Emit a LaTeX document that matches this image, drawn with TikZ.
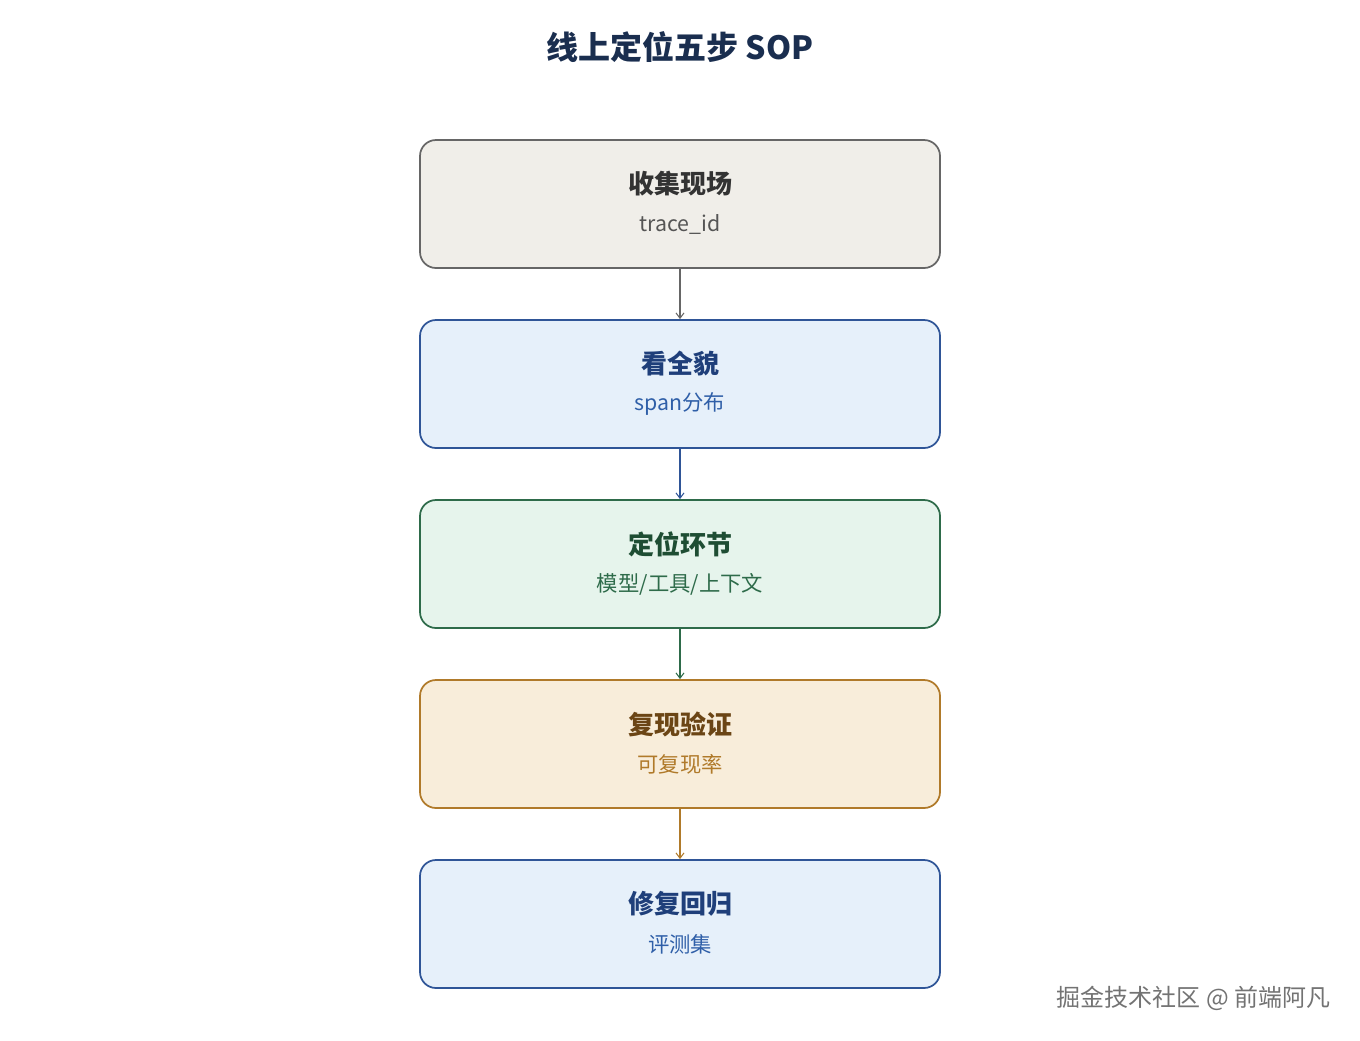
\documentclass[tikz,border=0pt]{standalone}
\usepackage{fontspec}
\usetikzlibrary{arrows.meta}
\setmainfont{Noto Sans CJK SC}
\definecolor{b1f}{HTML}{F0EEE9}\definecolor{b1d}{HTML}{666666}\definecolor{b1t}{HTML}{333333}\definecolor{b1s}{HTML}{555555}
\definecolor{b2f}{HTML}{E6F0FA}\definecolor{b2d}{HTML}{2F5597}\definecolor{b2t}{HTML}{1F3F7A}\definecolor{b2s}{HTML}{2F5FA8}
\definecolor{b3f}{HTML}{E6F4EC}\definecolor{b3d}{HTML}{2E6B4A}\definecolor{b3t}{HTML}{1E4D33}\definecolor{b3s}{HTML}{2E6B4A}
\definecolor{b4f}{HTML}{F8EDDA}\definecolor{b4d}{HTML}{B07A2A}\definecolor{b4t}{HTML}{6B4515}\definecolor{b4s}{HTML}{B07A2A}
\definecolor{ttl}{HTML}{1A2E4F}
\begin{document}
\begin{tikzpicture}[x=0.75pt,y=-0.75pt,
 box/.style={draw=#1d,fill=#1f,line width=1.3pt,rounded corners=12pt,minimum width=390pt,minimum height=96pt},
 tt/.style={text=#1t,font=\fontsize{19.5}{22}\selectfont\bfseries},
 st/.style={text=#1s,font=\fontsize{16}{19}\selectfont},
 ar/.style={draw=#1d,line width=0.8pt,-{Straight Barb[length=4pt,width=6pt]}}]
\useasboundingbox (0,0) rectangle (1360,1040);
\node[text=ttl,font=\fontsize{24}{28}\selectfont\bfseries] (title) at (680,47) {线上定位五步 SOP};
\foreach \i/\y/\c/\a/\b in {1/204/b1/收集现场/trace\_id,2/384/b2/看全貌/span分布,3/564/b3/定位环节/{模型/工具/上下文},4/744/b4/复现验证/可复现率,5/924/b2/修复回归/评测集}{
 \node[box=\c] (n\i) at (680,\y) {};
 \node[tt=\c] (t\i) at (680,\y-20) {\a};
 \node[st=\c] (s\i) at (680,\y+20) {\b};
}
\draw[ar=b1] (n1) -- (n2);
\draw[ar=b2] (n2) -- (n3);
\draw[ar=b3] (n3) -- (n4);
\draw[ar=b4] (n4) -- (n5);
\node[anchor=east,text=gray!90!black,font=\fontsize{18}{20}\selectfont] (wm) at (1335,998) {掘金技术社区 @ 前端阿凡};
\end{tikzpicture}
\end{document}
